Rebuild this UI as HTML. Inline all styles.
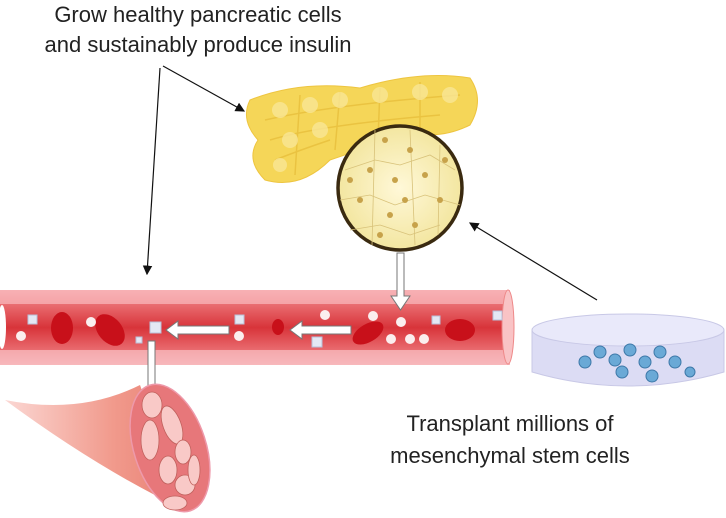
<!DOCTYPE html>
<html><head><style>body{margin:0;background:#fff}svg{display:block}</style></head><body>
<svg width="726" height="518" viewBox="0 0 726 518" xmlns="http://www.w3.org/2000/svg">
<defs>
<marker id="ah" markerWidth="8" markerHeight="8" refX="7" refY="4" orient="auto"><path d="M0,0 L8,4 L0,8 z" fill="#111"/></marker>
<linearGradient id="tube" x1="0" y1="0" x2="0" y2="1"><stop offset="0" stop-color="#f7b0b4"/><stop offset="0.2" stop-color="#e96b6f"/><stop offset="0.5" stop-color="#d8343a"/><stop offset="0.8" stop-color="#e96b6f"/><stop offset="1" stop-color="#f7b8bb"/></linearGradient>
<radialGradient id="cell" cx="0.5" cy="0.5" r="0.5"><stop offset="0" stop-color="#fff8d8"/><stop offset="1" stop-color="#f3e6a0"/></radialGradient>
<linearGradient id="musc" x1="0" y1="0" x2="1" y2="0"><stop offset="0" stop-color="#fbd7d3"/><stop offset="0.6" stop-color="#f19a8c"/><stop offset="1" stop-color="#e77d72"/></linearGradient>
</defs>
<text x="198" y="22" font-family="Liberation Sans, sans-serif" font-size="22" text-anchor="middle" fill="#222">Grow healthy pancreatic   cells</text>
<text x="198" y="52" font-family="Liberation Sans, sans-serif" font-size="22" text-anchor="middle" fill="#222">and sustainably produce insulin</text>
<text x="510" y="431" font-family="Liberation Sans, sans-serif" font-size="22" text-anchor="middle" fill="#222">Transplant millions of</text>
<text x="510" y="463" font-family="Liberation Sans, sans-serif" font-size="22" text-anchor="middle" fill="#222">mesenchymal stem cells</text>
<!-- pancreas -->
<path d="M250,100 Q300,80 360,88 Q420,70 470,78 Q485,100 470,125 Q440,140 410,132 Q360,150 330,160 Q300,190 265,180 Q245,160 258,140 Q240,120 250,100Z" fill="#f5d658" stroke="#eec540"/>
<g fill="none" stroke="#e8bf3c" stroke-width="1.5" opacity="0.8"><path d="M265,120 Q330,105 460,95"/><path d="M270,140 Q320,125 440,115"/><path d="M275,160 Q300,150 330,140"/><path d="M300,95 L295,175"/><path d="M340,92 L335,150"/><path d="M380,88 L378,140"/><path d="M420,82 L420,130"/></g>
<g fill="#f9e796" opacity="0.8"><circle cx="280" cy="110" r="8"/><circle cx="310" cy="105" r="8"/><circle cx="340" cy="100" r="8"/><circle cx="380" cy="95" r="8"/><circle cx="420" cy="92" r="8"/><circle cx="450" cy="95" r="8"/><circle cx="290" cy="140" r="8"/><circle cx="320" cy="130" r="8"/><circle cx="280" cy="165" r="7"/></g>
<!-- lines -->
<line x1="160" y1="68" x2="147" y2="274" stroke="#111" stroke-width="1.2" marker-end="url(#ah)"/>
<line x1="163" y1="66" x2="244" y2="111" stroke="#111" stroke-width="1.2" marker-end="url(#ah)"/>
<line x1="597" y1="300" x2="470" y2="223" stroke="#111" stroke-width="1.2" marker-end="url(#ah)"/>
<!-- vessel -->
<rect x="0" y="290" width="510" height="75" fill="url(#tube)"/>
<rect x="0" y="290" width="510" height="14" fill="#f7b0b4" opacity="0.8"/>
<rect x="0" y="350" width="510" height="15" fill="#f7b8bb" opacity="0.8"/>
<ellipse cx="508" cy="327" rx="6" ry="37" fill="#f9c3c5" stroke="#e88"/>
<ellipse cx="2" cy="327" rx="4" ry="22" fill="#fff"/>
<g fill="#c8101a"><ellipse cx="62" cy="328" rx="11" ry="16"/><ellipse cx="110" cy="330" rx="12" ry="18" transform="rotate(-40 110 330)"/><ellipse cx="368" cy="333" rx="9" ry="17" transform="rotate(60 368 333)"/><ellipse cx="460" cy="330" rx="15" ry="11"/><ellipse cx="278" cy="327" rx="6" ry="8"/></g>
<g fill="#fbeeee"><circle cx="21" cy="336" r="5"/><circle cx="91" cy="322" r="5"/><circle cx="239" cy="336" r="5"/><circle cx="325" cy="315" r="5"/><circle cx="373" cy="316" r="5"/><circle cx="401" cy="322" r="5"/><circle cx="391" cy="339" r="5"/><circle cx="410" cy="339" r="5"/><circle cx="424" cy="339" r="5"/></g>
<g fill="#e4e8f4" stroke="#b8c0d8"><rect x="28" y="315" width="9" height="9"/><rect x="150" y="322" width="11" height="11"/><rect x="235" y="315" width="9" height="9"/><rect x="312" y="337" width="10" height="10"/><rect x="432" y="316" width="8" height="8"/><rect x="493" y="311" width="9" height="9"/><rect x="136" y="337" width="6" height="6"/></g>
<!-- white arrows -->
<g fill="#fff" stroke="#777" stroke-width="1">
<path d="M397,253 L404,253 L404,296 L410,296 L400.5,310 L391,296 L397,296Z"/>
<path d="M229,326 L229,334 L178,334 L178,339 L166,330 L178,321 L178,326Z"/>
<path d="M351,326 L351,334 L302,334 L302,339 L290,330 L302,321 L302,326Z"/>
<path d="M148,341 L155,341 L155,392 L161,392 L151.5,406 L142,392 L148,392Z"/>
</g>
<!-- muscle -->
<path d="M5,400 Q80,415 140,385 L185,510 Q100,470 5,400Z" fill="url(#musc)"/>
<ellipse cx="170" cy="448" rx="36" ry="66" transform="rotate(-18 170 448)" fill="#e7777a" stroke="#e9a" stroke-width="1.5"/>
<g fill="#f9c9c7" stroke="#c0605c" stroke-width="0.8">
<ellipse cx="152" cy="405" rx="10" ry="13"/><ellipse cx="150" cy="440" rx="9" ry="20"/><ellipse cx="172" cy="425" rx="9" ry="20" transform="rotate(-20 172 425)"/><ellipse cx="183" cy="452" rx="8" ry="12"/><ellipse cx="168" cy="470" rx="9" ry="14"/><ellipse cx="185" cy="485" rx="10" ry="10"/><ellipse cx="175" cy="503" rx="12" ry="7"/><ellipse cx="194" cy="470" rx="6" ry="15"/>
</g>
<!-- circle -->
<circle cx="400" cy="188" r="62" fill="url(#cell)" stroke="#3a2a10" stroke-width="3.5"/>
<g fill="none" stroke="#d8c27a" stroke-width="0.8"><path d="M345,170 L375,160 L400,165 L430,155 L455,170"/><path d="M340,200 L370,195 L395,205 L425,195 L460,205"/><path d="M350,230 L380,225 L410,235 L440,225"/><path d="M375,130 L372,245"/><path d="M410,130 L415,245"/><path d="M440,145 L438,235"/></g>
<g fill="#c7a24a"><circle cx="385" cy="140" r="3"/><circle cx="410" cy="150" r="3"/><circle cx="370" cy="170" r="3"/><circle cx="395" cy="180" r="3"/><circle cx="425" cy="175" r="3"/><circle cx="440" cy="200" r="3"/><circle cx="360" cy="200" r="3"/><circle cx="390" cy="215" r="3"/><circle cx="415" cy="225" r="3"/><circle cx="380" cy="235" r="3"/><circle cx="445" cy="160" r="3"/><circle cx="350" cy="180" r="3"/><circle cx="405" cy="200" r="3"/></g>
<!-- dish -->
<path d="M532,330 L532,372 Q628,400 724,372 L724,330Z" fill="#dcdcf4" stroke="#c8c8e6"/>
<ellipse cx="628" cy="330" rx="96" ry="16" fill="#e9e9fa" stroke="#c8c8e6"/>
<g fill="#6aa9d6" stroke="#3d78a8"><circle cx="585" cy="362" r="6"/><circle cx="600" cy="352" r="6"/><circle cx="615" cy="360" r="6"/><circle cx="630" cy="350" r="6"/><circle cx="645" cy="362" r="6"/><circle cx="660" cy="352" r="6"/><circle cx="675" cy="362" r="6"/><circle cx="622" cy="372" r="6"/><circle cx="652" cy="376" r="6"/><circle cx="690" cy="372" r="5"/></g>
</svg>
</body></html>
